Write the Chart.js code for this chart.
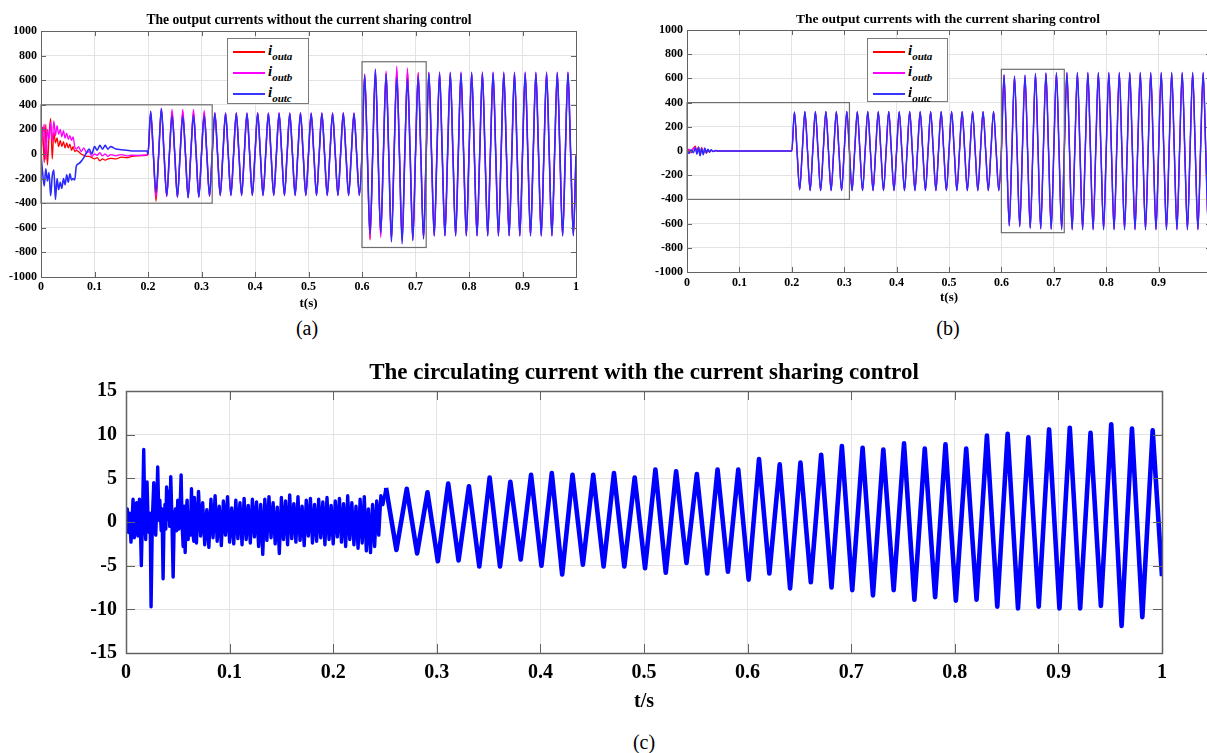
<!DOCTYPE html>
<html>
<head>
<meta charset="utf-8">
<title>Output and circulating currents</title>
<script src="https://cdn.jsdelivr.net/npm/chart.js@4.4.1/dist/chart.umd.min.js"></script>
<style>
  html, body { margin: 0; padding: 0; background: #fff; }
  body { position: relative; width: 1207px; height: 753px; overflow: hidden;
         font-family: "Liberation Serif", "Times New Roman", serif; color: #000; }
  .panel { position: absolute; }
  .title { position: absolute; text-align: center; font-weight: bold; white-space: nowrap; }
  .caption { position: absolute; text-align: center; font-size: 20px; line-height: 24px; }
  .legend { position: absolute; background: #fff; border: 1px solid #7a7a7a; box-sizing: border-box; }
  .legend .row { position: absolute; left: 0; right: 0; height: 21px; }
  .legend .swatch { position: absolute; left: 5px; width: 32px; top: 8px; height: 2px; }
  .legend .lab { position: absolute; left: 40px; top: 0; font-weight: bold; font-style: italic;
                 font-size: 15px; line-height: 15px; white-space: nowrap; }
  .legend sub { font-size: 11px; vertical-align: -5px; line-height: 0; }
</style>
</head>
<body>

<div class="panel" id="boxA" style="left:0px;top:0px;width:590px;height:311px"><canvas id="chartA"></canvas></div>
<div class="panel" id="boxB" style="left:646px;top:0px;width:585px;height:305px"><canvas id="chartB"></canvas></div>
<div class="panel" id="boxC" style="left:40px;top:370px;width:1142px;height:344px"><canvas id="chartC"></canvas></div>

<div class="title" style="left:0px;width:618px;top:12px;font-size:13.6px;line-height:15px">The output currents without the current sharing control</div>
<div class="title" style="left:648px;width:600px;top:11px;font-size:13.5px;line-height:15px">The output currents with the current sharing control</div>
<div class="title" style="left:0px;width:1288px;top:358px;font-size:23px;line-height:27px">The circulating current with the current sharing control</div>

<div class="caption" style="left:257px;width:100px;top:316px">(a)</div>
<div class="caption" style="left:898px;width:100px;top:316px">(b)</div>
<div class="caption" style="left:594px;width:100px;top:730px">(c)</div>

<div class="legend" style="left:227px;top:38px;width:82px;height:66px">
  <div class="row" style="top:4px"><span class="swatch" style="background:#ff0000"></span><span class="lab">i<sub>outa</sub></span></div>
  <div class="row" style="top:25px"><span class="swatch" style="background:#ff00ff"></span><span class="lab">i<sub>outb</sub></span></div>
  <div class="row" style="top:46px"><span class="swatch" style="background:#3636ff"></span><span class="lab">i<sub>outc</sub></span></div>
</div>
<div class="legend" style="left:867px;top:38px;width:81px;height:64px">
  <div class="row" style="top:4px"><span class="swatch" style="background:#ff0000;height:1.5px"></span><span class="lab">i<sub>outa</sub></span></div>
  <div class="row" style="top:25px"><span class="swatch" style="background:#ff00ff;height:1.5px"></span><span class="lab">i<sub>outb</sub></span></div>
  <div class="row" style="top:46px"><span class="swatch" style="background:#3636ff;height:1.5px"></span><span class="lab">i<sub>outc</sub></span></div>
</div>

<script>
// 50 Hz output: half period in seconds
const HALF = 0.01;
const LOAD_STEP_START = 0.2;

// ---------- (a) without current sharing ----------
// transient before the load is connected (0 .. 0.2 s)
const aTransT = [0, 0.003, 0.006, 0.009, 0.012, 0.015, 0.018, 0.021, 0.024, 0.027, 0.030, 0.033, 0.036,
  0.039, 0.042, 0.045, 0.048, 0.051, 0.054, 0.057, 0.060, 0.063, 0.066, 0.070, 0.075, 0.080, 0.085,
  0.090, 0.095, 0.100, 0.105, 0.110, 0.115, 0.120, 0.125, 0.130, 0.140, 0.150, 0.160, 0.170, 0.180,
  0.190, 0.198];
const aTransRed = [0, 220, -70, 240, -90, 150, 290, -40, 180, 90, 130, 60, 110,
  60, 100, 50, 90, 50, 80, 30, 60, 20, 30, 20, 0, -10, -20,
  -20, -30, -40, -30, -55, -40, -50, -40, -35, -40, -25, -30, -20, -15,
  -12, -10];
const aTransMag = [0, 150, 240, -50, 200, 120, 260, 100, 270, 150, 230, 160, 200,
  140, 190, 130, 170, 120, 150, 110, 140, 60, 40, 60, 20, 50, 10,
  20, -20, 0, -10, 10, -15, 0, -20, -5, -15, -5, -15, -10, -12,
  -10, -8];
const aTransBlue = [0, -150, -260, -120, -220, -150, -340, -180, -130, -370, -200, -290, -230,
  -280, -200, -250, -170, -230, -160, -210, -200, -210, -100, -80, -60, -30, 10,
  40, 0, 60, 30, 70, 40, 70, 40, 60, 40, 35, 30, 25, 25,
  25, 25];

// alternating crest values of each half cycle from 0.205 s to 0.995 s
const aHalfRed = [
  330, -385, 360, -345, 345, -350, 340, -352, 340, -348, 335, -342,
  325, -332, 324, -331, 325, -332, 324, -331, 325, -332, 324, -331, 325, -332,
  324, -331, 325, -332, 324, -331, 325, -332, 324, -331, 325, -332, 324, -331,
  650, -700, 660, -660, 660, -700, 680, -710, 680, -700, 660, -690,
  655, -660, 654, -659, 655, -660, 654, -659, 655, -660, 654, -659, 655, -660,
  654, -659, 655, -660, 654, -659, 655, -660, 654, -659, 655, -660, 655, -655];
const aHalfMag = [
  340, -350, 372, -345, 362, -352, 362, -356, 362, -352, 355, -345,
  338, -340, 337, -339, 338, -340, 337, -339, 338, -340, 337, -339, 338, -340,
  337, -339, 338, -340, 337, -339, 338, -340, 337, -339, 338, -340, 337, -339,
  650, -690, 680, -680, 675, -690, 715, -700, 700, -690, 665, -680,
  668, -668, 670, -667, 668, -668, 670, -667, 668, -668, 670, -667, 668, -668,
  670, -667, 668, -668, 670, -667, 668, -668, 670, -667, 668, -668, 668, -664];
const aHalfBlue = [
  350, -310, 370, -340, 310, -350, 305, -355, 310, -350, 310, -340,
  332, -336, 330, -335, 331, -336, 330, -335, 332, -336, 330, -335, 331, -336,
  330, -335, 332, -336, 330, -335, 331, -336, 330, -335, 332, -336, 330, -335,
  640, -650, 690, -640, 650, -715, 620, -730, 610, -705, 630, -690,
  662, -666, 660, -665, 662, -666, 660, -665, 662, -666, 660, -665, 662, -666,
  660, -665, 662, -666, 660, -665, 662, -666, 660, -665, 662, -666, 664, -664];
const aEnd = [-10, -12, -15];
// zoom frames: [t0, t1, iLow, iHigh]
const aFrames = [[0, 0.32, -400, 400], [0.6, 0.72, -760, 750]];

// ---------- (b) with current sharing ----------
const bTransT = [0, 0.004, 0.008, 0.012, 0.016, 0.019, 0.022, 0.025, 0.028, 0.031, 0.034, 0.037,
  0.040, 0.043, 0.046, 0.050, 0.055, 0.060, 0.070, 0.198];
const bTransRed = [0, 10, -15, 20, 40, -10, 35, -20, 30, -25, 15, -20, 10, -8, 6, -4, 3, 0, 0, 0];
const bTransMag = [0, 15, -10, 25, 30, -20, 20, -35, 25, -20, 20, -10, 12, -6, 8, -3, 2, 0, 0, 0];
const bTransBlue = [0, -20, 10, -15, 25, -25, 30, -40, 20, -30, 25, -15, 15, -10, 10, -5, 5, 0, 0, 0];

const bHalfRed = [
  318, -316, 322, -323, 322, -323, 323, -323, 322, -323,
  323, -323, 322, -323, 323, -323, 322, -323, 323, -323,
  322, -323, 323, -323, 322, -323, 323, -323, 322, -323,
  323, -323, 322, -323, 323, -323, 322, -323, 323, -323,
  624, -614, 614, -618, 620, -634, 636, -638, 640, -641,
  642, -643, 642, -644, 642, -644, 642, -644, 642, -644,
  642, -644, 642, -644, 642, -644, 642, -644, 642, -644,
  642, -644, 642, -644, 642, -644, 642, -644, 642, -644];
const bHalfMag = [
  320, -318, 324, -326, 324, -326, 325, -326, 324, -326,
  325, -326, 324, -326, 325, -326, 324, -326, 325, -326,
  324, -326, 325, -326, 324, -326, 325, -326, 324, -326,
  325, -326, 324, -326, 325, -326, 324, -326, 325, -326,
  628, -617, 617, -622, 624, -637, 639, -642, 643, -645,
  645, -647, 647, -648, 647, -648, 647, -648, 647, -648,
  647, -648, 647, -648, 647, -648, 647, -648, 647, -648,
  647, -648, 647, -648, 647, -648, 647, -648, 647, -648];
const bHalfBlue = [
  322, -320, 326, -328, 326, -328, 327, -328, 326, -328,
  327, -328, 326, -328, 327, -328, 326, -328, 327, -328,
  326, -328, 327, -328, 326, -328, 327, -328, 326, -328,
  327, -328, 326, -328, 327, -328, 326, -328, 327, -328,
  632, -620, 620, -625, 628, -640, 642, -645, 646, -648,
  648, -650, 650, -651, 650, -651, 650, -651, 650, -651,
  650, -651, 650, -651, 650, -651, 650, -651, 650, -651,
  650, -651, 650, -651, 650, -651, 650, -651, 650, -651];
const bFrames = [[0, 0.31, -400, 400], [0.6, 0.72, -675, 675]];

// ---------- (c) circulating current ----------
// start-up spikes
const cEarlyT = [0, 0.0012, 0.0025, 0.0035, 0.0048, 0.0060, 0.0068, 0.0080, 0.0092, 0.0102, 0.0115,
  0.0130, 0.0140, 0.0148, 0.0160, 0.0171, 0.0182, 0.0190, 0.0203, 0.0213, 0.0223, 0.0233, 0.0242,
  0.0255, 0.0268, 0.0278, 0.0287, 0.0296, 0.0306, 0.0318, 0.0326, 0.0340, 0.0348, 0.0358, 0.0368,
  0.0376, 0.0384, 0.0392, 0.0402, 0.0413, 0.0422, 0.0432, 0.0443, 0.0455, 0.0466, 0.0477, 0.0488,
  0.0500, 0.0510, 0.0522, 0.0532, 0.0542, 0.0552, 0.0562, 0.0571, 0.0580, 0.0590, 0.0600, 0.0610,
  0.0620, 0.0632, 0.0642, 0.0655];
const cEarlyV = [0, 1.5, -1.2, 1.0, -2.3, 0.5, 2.6, -1.8, 0.8, 2.2, -1.6,
  2.6, -1.0, -5.0, 1.0, 8.3, 0.5, -2.0, 4.6, 0.2, -1.2, 1.0, -9.7,
  0.5, 4.5, -0.5, -1.5, 1.5, 6.3, 0.2, 2.5, -1.0, 1.5, -6.5, 0.8,
  2.0, -0.8, 4.0, 0.3, 3.5, -0.5, 5.2, 0.5, -6.3, 0.5, 1.5, -1.0,
  2.5, -0.8, 1.5, 5.4, -0.5, -2.8, 1.8, -3.5, 0.8, 2.5, -2.0, 1.0,
  -1.5, 3.8, -1.0, -2.2];
// switching ripple band, sampled every 2 ms from 0.066 s
const cNoiseStart = 0.066;
const cNoiseStep = 0.002;
const cNoiseV = [
  2.8, -2.4, 3.5, -1.6, 2.2, -2.6, 1.4, -2.9, 2.6, -1.8,
  3.0, -2.2, 1.8, -2.7, 2.4, -1.5, 2.9, -2.3, 1.6, -2.5,
  2.5, -1.9, 2.2, -2.6, 2.7, -2.0, 1.9, -2.4, 2.6, -1.7,
  2.3, -2.8, 2.0, -3.7, 2.6, -2.1, 2.9, -1.8, 2.2, -2.5,
  1.7, -3.6, 2.8, -2.0, 2.4, -2.6, 3.1, -1.9, 2.1, -2.3,
  2.9, -2.1, 1.8, -2.7, 2.5, -1.6, 2.7, -2.4, 2.0, -2.2,
  2.6, -1.8, 2.3, -2.6, 2.8, -2.0, 1.9, -2.5, 2.4, -1.7,
  2.7, -2.3, 2.1, -2.8, 3.0, -2.0, 2.2, -2.6, 1.8, -3.0,
  2.6, -2.4, 2.9, -3.3, 1.5, -3.5, 2.0, -2.8, 2.4, -1.5,
  3.0, 2.0];
// 50 Hz component: crests from 0.251 s and troughs from 0.261 s
const cPeakStart = 0.251;
const cPeaks = [3.9, 3.8, 3.4, 4.4, 4.1, 5.1, 4.6, 5.4, 5.6, 5.4, 5.4,
  5.6, 5.1, 6.0, 5.8, 5.5, 6.0, 6.0, 7.2, 6.6, 6.8, 7.7, 8.7, 8.5, 8.3, 9.0, 8.4,
  8.9, 8.4, 9.9, 10.1, 9.7, 10.6, 10.8, 10.2, 11.2, 10.7, 10.5];
const cTroughs = [-3.2, -3.6, -4.5, -4.4, -5.1, -5.1, -4.3, -5.0, -6.0, -4.9, -5.1,
  -5.1, -5.3, -5.8, -4.7, -5.9, -5.7, -6.6, -5.9, -7.6, -6.9, -7.5, -7.8, -8.4, -7.8,
  -8.9, -8.6, -9.0, -8.9, -9.7, -9.9, -9.7, -9.9, -9.9, -9.6, -11.9, -10.9];
const cEnd = -6.2;

const GRID = '#e3e3e3';
const FRAME = '#626262';

Chart.defaults.font.family = '"Liberation Serif", "Times New Roman", serif';
Chart.defaults.font.weight = 'bold';
Chart.defaults.color = '#000';

// one phase current: transient samples, then zero crossings and crests of each half cycle
function phaseCurrent(transT, transV, halfCrests, endValue) {
  const pts = transT.map((t, i) => ({ x: t, y: transV[i] }));
  halfCrests.forEach((v, k) => {
    const t0 = LOAD_STEP_START + k * HALF;
    pts.push({ x: +t0.toFixed(4), y: 0 });
    pts.push({ x: +(t0 + HALF / 2).toFixed(4), y: v });
  });
  pts.push({ x: 1, y: endValue });
  return pts;
}

function circulatingCurrent() {
  const pts = cEarlyT.map((t, i) => ({ x: t, y: cEarlyV[i] }));
  cNoiseV.forEach((v, i) => pts.push({ x: +(cNoiseStart + i * cNoiseStep).toFixed(4), y: v }));
  cPeaks.forEach((v, k) => {
    const t = cPeakStart + 2 * k * HALF;
    pts.push({ x: +t.toFixed(4), y: v });
    if (k < cTroughs.length) pts.push({ x: +(t + HALF).toFixed(4), y: cTroughs[k] });
  });
  pts.push({ x: 1, y: cEnd });
  return pts;
}

// MATLAB style box, inward ticks and zoom frames
const matlabFrame = {
  id: 'matlabFrame',
  afterDatasetsDraw(chart, args, opts) {
    const { ctx, chartArea: a, scales: { x, y } } = chart;
    ctx.save();
    ctx.strokeStyle = FRAME;
    ctx.lineWidth = 1;
    ctx.beginPath();
    x.ticks.forEach(t => {
      const px = Math.round(x.getPixelForValue(t.value)) + 0.5;
      ctx.moveTo(px, a.bottom); ctx.lineTo(px, a.bottom - opts.tick);
      ctx.moveTo(px, a.top); ctx.lineTo(px, a.top + opts.tick);
    });
    y.ticks.forEach(t => {
      const py = Math.round(y.getPixelForValue(t.value)) + 0.5;
      ctx.moveTo(a.left, py); ctx.lineTo(a.left + opts.tick, py);
      ctx.moveTo(a.right, py); ctx.lineTo(a.right - opts.tick, py);
    });
    ctx.stroke();
    ctx.lineWidth = opts.frameWidth;
    ctx.strokeRect(Math.round(a.left) + 0.5, Math.round(a.top) + 0.5, Math.round(a.width), Math.round(a.height));
    ctx.lineWidth = 1.2;
    ctx.strokeStyle = '#6e6e6e';
    (opts.frames || []).forEach(f => {
      const x0 = x.getPixelForValue(f[0]), x1 = x.getPixelForValue(f[1]);
      const y0 = y.getPixelForValue(f[3]), y1 = y.getPixelForValue(f[2]);
      ctx.strokeRect(x0, y0, x1 - x0, y1 - y0);
    });
    ctx.restore();
  }
};

function axis(o) {
  return {
    type: 'linear', min: o.min, max: o.max,
    afterFit: s => { if (o.width) s.width = o.width; if (o.height) s.height = o.height; },
    grid: { color: GRID, drawTicks: false, lineWidth: 1 },
    border: { display: false },
    ticks: {
      stepSize: o.step, autoSkip: false, maxRotation: 0, padding: o.pad,
      font: { size: o.size, weight: 'bold' }, color: '#000',
      callback: v => String(Math.round(v * 100) / 100)
    },
    title: o.title
      ? { display: true, text: o.title, padding: 0, color: '#000', font: { size: o.titleSize, weight: 'bold' } }
      : { display: false }
  };
}

function makePanel(canvasId, datasets, o) {
  return new Chart(document.getElementById(canvasId), {
    type: 'line',
    data: { datasets },
    options: {
      animation: false, responsive: true, maintainAspectRatio: false, devicePixelRatio: 1,
      parsing: false, normalized: true,
      layout: { padding: o.padding },
      elements: { point: { radius: 0 } },
      plugins: { legend: { display: false }, tooltip: { enabled: false },
        matlabFrame: { tick: o.tick, frames: o.frames, frameWidth: o.frameWidth } },
      scales: { x: o.x, y: o.y }
    },
    plugins: [matlabFrame]
  });
}

function phaseSet(pts, color, width) {
  return { data: pts, borderColor: color, borderWidth: width, cubicInterpolationMode: 'monotone', fill: false };
}

// (a)
makePanel('chartA', [
  phaseSet(phaseCurrent(aTransT, aTransBlue, aHalfBlue, aEnd[2]), '#2b2bff', 1.6),
  phaseSet(phaseCurrent(aTransT, aTransMag, aHalfMag, aEnd[1]), '#ff00ff', 1.3),
  phaseSet(phaseCurrent(aTransT, aTransRed, aHalfRed, aEnd[0]), '#ff0000', 1.3)
], {
  padding: { top: 31, right: 14, left: 0, bottom: 0 },
  tick: 5, frames: aFrames, frameWidth: 1,
  x: axis({ min: 0, max: 1, step: 0.1, pad: 3, size: 12, height: 34, title: 't(s)', titleSize: 13 }),
  y: axis({ min: -1000, max: 1000, step: 200, pad: 4, size: 12, width: 41 })
});

// (b)
makePanel('chartB', [
  phaseSet(phaseCurrent(bTransT, bTransBlue, bHalfBlue, -10), '#2b2bff', 1.5),
  phaseSet(phaseCurrent(bTransT, bTransMag, bHalfMag, -10), '#ff00ff', 1.2),
  phaseSet(phaseCurrent(bTransT, bTransRed, bHalfRed, -10), '#ff0000', 1.2)
], {
  padding: { top: 30, right: 20, left: 0, bottom: 0 },
  tick: 5, frames: bFrames, frameWidth: 1,
  x: axis({ min: 0, max: 1, step: 0.1, pad: 4, size: 12, height: 33, title: 't(s)', titleSize: 13 }),
  y: axis({ min: -1000, max: 1000, step: 200, pad: 4, size: 12, width: 41 })
});

// (c): dense ripple band before 0.25 s, heavier trace for the 50 Hz part
makePanel('chartC', [{
  data: circulatingCurrent(), borderColor: '#0000ff', borderWidth: 3.4, tension: 0, fill: false,
  borderJoinStyle: 'round',
  segment: { borderWidth: ctx => (ctx.p0.parsed.x >= cPeakStart - 0.002 ? 4.6 : 3.4) }
}], {
  padding: { top: 20, right: 20, left: 0, bottom: 0 },
  tick: 9, frames: [], frameWidth: 1.5,
  x: axis({ min: 0, max: 1, step: 0.1, pad: 8, size: 20, height: 61, title: 't/s', titleSize: 20 }),
  y: axis({ min: -15, max: 15, step: 5, pad: 9, size: 20, width: 86 })
});
</script>
</body>
</html>
